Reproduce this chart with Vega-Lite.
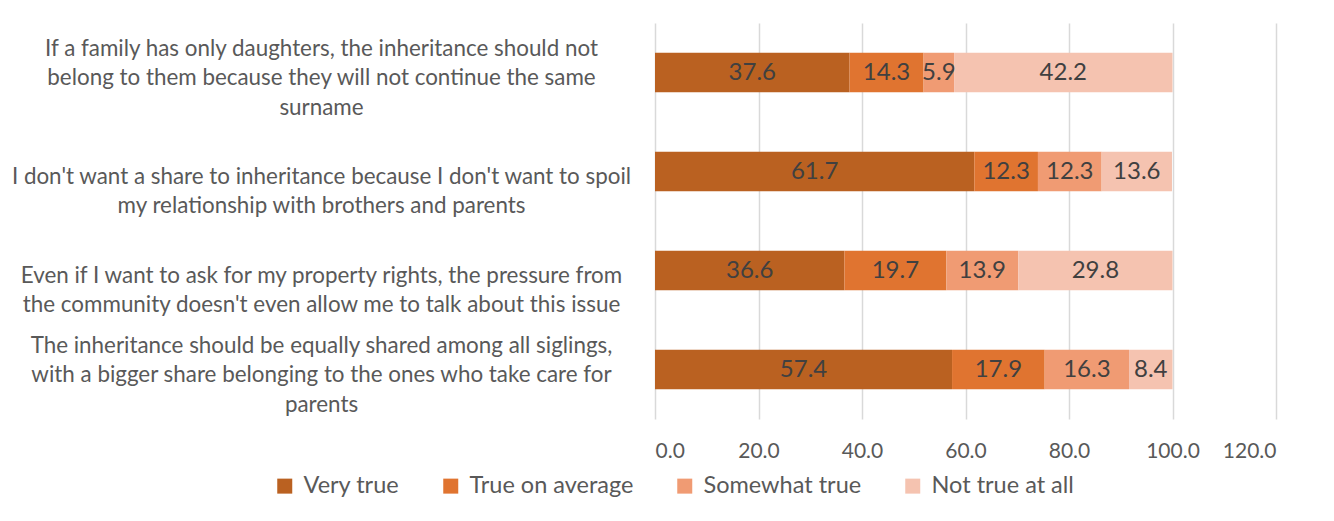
{
  "$schema": "https://vega.github.io/schema/vega-lite/v6.json",
  "autosize": {"type": "none"},
  "width": 621,
  "height": 396,
  "padding": {"left": 655, "top": 23, "right": 58, "bottom": 102},
  "background": "white",
  "data": {"values": [
    {"q": "If a family has only daughters, the inheritance should not|belong to them because they will not continue the same|surname", "r": "Very true", "k": 1, "v": 37.6},
    {"q": "If a family has only daughters, the inheritance should not|belong to them because they will not continue the same|surname", "r": "True on average", "k": 2, "v": 14.3},
    {"q": "If a family has only daughters, the inheritance should not|belong to them because they will not continue the same|surname", "r": "Somewhat true", "k": 3, "v": 5.9},
    {"q": "If a family has only daughters, the inheritance should not|belong to them because they will not continue the same|surname", "r": "Not true at all", "k": 4, "v": 42.2},
    {"q": "I don't want a share to inheritance because I don't want to spoil|my relationship with brothers and parents", "r": "Very true", "k": 1, "v": 61.7},
    {"q": "I don't want a share to inheritance because I don't want to spoil|my relationship with brothers and parents", "r": "True on average", "k": 2, "v": 12.3},
    {"q": "I don't want a share to inheritance because I don't want to spoil|my relationship with brothers and parents", "r": "Somewhat true", "k": 3, "v": 12.3},
    {"q": "I don't want a share to inheritance because I don't want to spoil|my relationship with brothers and parents", "r": "Not true at all", "k": 4, "v": 13.6},
    {"q": "Even if I want to ask for my property rights, the pressure from|the community doesn't even allow me to talk about this issue", "r": "Very true", "k": 1, "v": 36.6},
    {"q": "Even if I want to ask for my property rights, the pressure from|the community doesn't even allow me to talk about this issue", "r": "True on average", "k": 2, "v": 19.7},
    {"q": "Even if I want to ask for my property rights, the pressure from|the community doesn't even allow me to talk about this issue", "r": "Somewhat true", "k": 3, "v": 13.9},
    {"q": "Even if I want to ask for my property rights, the pressure from|the community doesn't even allow me to talk about this issue", "r": "Not true at all", "k": 4, "v": 29.8},
    {"q": "The inheritance should be equally shared among all siglings,|with a bigger share belonging to the ones who take care for|parents", "r": "Very true", "k": 1, "v": 57.4},
    {"q": "The inheritance should be equally shared among all siglings,|with a bigger share belonging to the ones who take care for|parents", "r": "True on average", "k": 2, "v": 17.9},
    {"q": "The inheritance should be equally shared among all siglings,|with a bigger share belonging to the ones who take care for|parents", "r": "Somewhat true", "k": 3, "v": 16.3},
    {"q": "The inheritance should be equally shared among all siglings,|with a bigger share belonging to the ones who take care for|parents", "r": "Not true at all", "k": 4, "v": 8.4}
  ]},
  "encoding": {
    "y": {
      "field": "q", "type": "nominal", "sort": null, "title": null,
      "scale": {"paddingInner": 0.6, "paddingOuter": 0.3},
      "axis": {
        "labelExpr": "split(datum.label, '|')",
        "labelAlign": "center", "labelBaseline": "middle",
        "labelOffset": {"condition": {"test": "length(split(datum.value, '|')) == 3", "value": -24}, "value": 5},
        "labelPadding": 334, "ticks": false, "domain": false,
        "labelFontSize": 22.4, "labelLineHeight": 29.5, "labelColor": "#595959",
        "labelFont": "Lato", "labelLimit": 800
      }
    }
  },
  "layer": [
    {
      "mark": {"type": "bar"},
      "encoding": {
        "x": {
          "field": "v", "type": "quantitative", "stack": "zero", "title": null,
          "scale": {"domain": [0, 120], "nice": false},
          "axis": {
            "values": [0, 20, 40, 60, 80, 100, 120], "format": ".1f",
            "domain": false, "ticks": false, "grid": true, "gridColor": "#d9d9d9", "gridWidth": 1.5,
            "labelFontSize": 21, "labelColor": "#595959", "labelFont": "Lato", "labelPadding": 21
          }
        },
        "color": {
          "field": "r", "type": "nominal", "title": null,
          "scale": {
            "domain": ["Very true", "True on average", "Somewhat true", "Not true at all"],
            "range": ["#BA6121", "#E07430", "#F09B73", "#F5C3B0"]
          },
          "legend": {
            "orient": "none", "direction": "horizontal", "legendX": -382, "legendY": 451,
            "symbolType": "square", "symbolSize": 225, "symbolStrokeWidth": 0,
            "labelFontSize": 23.5, "labelColor": "#595959", "labelFont": "Lato", "labelLimit": 400,
            "columnPadding": 39, "labelOffset": 7
          }
        },
        "order": {"field": "k", "type": "quantitative"}
      }
    },
    {
      "mark": {"type": "text", "fontSize": 24, "color": "#404040", "font": "Lato", "baseline": "middle", "align": "center"},
      "encoding": {
        "x": {"field": "v", "type": "quantitative", "stack": "zero", "bandPosition": 0.5},
        "text": {"field": "v", "type": "quantitative", "format": ".1f"},
        "order": {"field": "k", "type": "quantitative"}
      }
    }
  ],
  "config": {"view": {"stroke": null}}
}
